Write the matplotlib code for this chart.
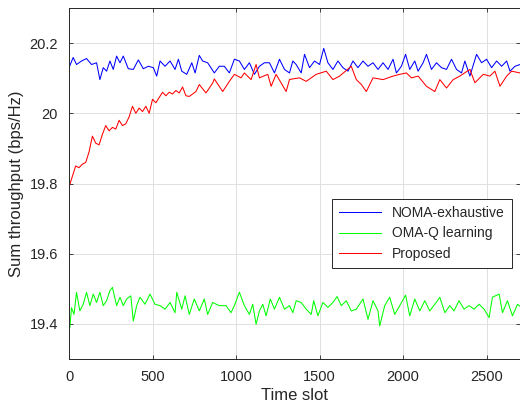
import numpy as np
import matplotlib
matplotlib.use("Agg")
import matplotlib.pyplot as plt

# values
noma_slots = [0, 25, 45, 75, 105, 135, 165, 185, 205, 225, 245, 265, 285, 305, 325, 355, 385, 415, 445, 475,
              505, 525, 545, 575, 605, 635, 655, 675, 705, 735, 755, 780, 800, 830, 870, 900, 930, 960, 990, 1020,
              1050, 1080, 1110, 1140, 1170, 1200, 1230, 1260, 1290, 1320, 1340, 1360, 1390, 1410, 1440, 1470, 1500,
              1525, 1550, 1580, 1610, 1640, 1670, 1700, 1730, 1760, 1790, 1820, 1850, 1880, 1910, 1940, 1960, 1990,
              2015, 2040, 2070, 2090, 2120, 2140, 2170, 2200, 2230, 2260, 2290, 2320, 2350, 2370, 2400, 2440, 2470,
              2500, 2530, 2560, 2590, 2620, 2640, 2670, 2700]
noma_vals = [20.130, 20.159, 20.139, 20.149, 20.156, 20.139, 20.144, 20.096, 20.130, 20.120, 20.149, 20.125,
             20.163, 20.144, 20.163, 20.127, 20.125, 20.152, 20.127, 20.134, 20.130, 20.106, 20.149, 20.134,
             20.149, 20.125, 20.154, 20.120, 20.111, 20.144, 20.115, 20.165, 20.149, 20.144, 20.115, 20.134,
             20.134, 20.115, 20.154, 20.149, 20.125, 20.144, 20.111, 20.134, 20.144, 20.144, 20.115, 20.154,
             20.125, 20.115, 20.149, 20.139, 20.115, 20.168, 20.130, 20.149, 20.139, 20.185, 20.144, 20.125,
             20.149, 20.130, 20.120, 20.149, 20.130, 20.149, 20.134, 20.144, 20.125, 20.144, 20.125, 20.154,
             20.115, 20.134, 20.168, 20.125, 20.149, 20.120, 20.144, 20.168, 20.125, 20.144, 20.130, 20.125,
             20.154, 20.125, 20.115, 20.149, 20.106, 20.168, 20.144, 20.154, 20.130, 20.149, 20.134, 20.149,
             20.120, 20.134, 20.139]

oma_slots = [5, 15, 30, 45, 65, 85, 105, 125, 145, 165, 185, 205, 225, 245, 260, 285, 305, 325, 345, 370,
             385, 405, 425, 455, 485, 515, 545, 575, 605, 635, 645, 675, 695, 720, 750, 780, 810, 830, 860, 900,
             940, 970, 990, 1020, 1050, 1080, 1100, 1120, 1140, 1160, 1180, 1205, 1230, 1260, 1290, 1320, 1340,
             1360, 1390, 1420, 1450, 1465, 1490, 1520, 1550, 1580, 1605, 1630, 1660, 1690, 1720, 1760, 1790,
             1820, 1850, 1860, 1890, 1920, 1950, 1980, 2015, 2040, 2070, 2100, 2130, 2160, 2190, 2220, 2250,
             2280, 2305, 2335, 2365, 2395, 2425, 2455, 2485, 2515, 2535, 2575, 2595, 2625, 2655, 2685, 2700]
oma_vals = [19.389, 19.446, 19.427, 19.490, 19.437, 19.456, 19.490, 19.452, 19.485, 19.461, 19.490, 19.452,
            19.466, 19.495, 19.504, 19.452, 19.476, 19.452, 19.471, 19.480, 19.408, 19.452, 19.476, 19.456,
            19.485, 19.456, 19.452, 19.442, 19.461, 19.432, 19.490, 19.442, 19.480, 19.427, 19.471, 19.437,
            19.471, 19.427, 19.461, 19.452, 19.452, 19.432, 19.452, 19.490, 19.452, 19.427, 19.456, 19.399,
            19.437, 19.456, 19.423, 19.471, 19.442, 19.476, 19.442, 19.452, 19.432, 19.466, 19.461, 19.442,
            19.427, 19.466, 19.423, 19.461, 19.447, 19.461, 19.478, 19.452, 19.466, 19.437, 19.442, 19.471,
            19.413, 19.466, 19.437, 19.394, 19.452, 19.476, 19.427, 19.452, 19.482, 19.423, 19.471, 19.437,
            19.466, 19.437, 19.456, 19.476, 19.432, 19.452, 19.437, 19.466, 19.442, 19.452, 19.442, 19.456,
            19.442, 19.418, 19.476, 19.485, 19.432, 19.466, 19.423, 19.456, 19.450]

prop_slots = [0, 20, 40, 60, 80, 100, 120, 140, 160, 180, 200, 220, 240, 260, 280, 300, 320, 340, 360, 380,
              400, 420, 440, 460, 480, 500, 520, 540, 560, 580, 600, 620, 640, 660, 680, 700, 720, 760, 780, 820,
              860, 870, 920, 960, 990, 1030, 1050, 1090, 1120, 1140, 1190, 1210, 1240, 1300, 1320, 1340, 1380,
              1420, 1480, 1540, 1580, 1620, 1690, 1720, 1750, 1780, 1820, 1880, 1940, 1980, 2020, 2050, 2090,
              2140, 2190, 2220, 2260, 2300, 2340, 2400, 2430, 2480, 2520, 2550, 2580, 2620, 2650, 2700]
prop_vals = [19.790, 19.820, 19.850, 19.845, 19.855, 19.860, 19.890, 19.935, 19.915, 19.910, 19.940, 19.965,
             19.950, 19.960, 19.955, 19.980, 19.965, 19.970, 19.990, 20.020, 20.000, 20.015, 20.005, 20.020,
             20.000, 20.040, 20.030, 20.045, 20.060, 20.050, 20.060, 20.055, 20.065, 20.058, 20.075, 20.050,
             20.048, 20.062, 20.082, 20.058, 20.086, 20.098, 20.062, 20.091, 20.111, 20.101, 20.115, 20.096,
             20.139, 20.101, 20.111, 20.077, 20.111, 20.062, 20.096, 20.098, 20.101, 20.091, 20.111, 20.120,
             20.096, 20.106, 20.134, 20.096, 20.082, 20.062, 20.101, 20.096, 20.106, 20.111, 20.115, 20.101,
             20.106, 20.077, 20.062, 20.096, 20.072, 20.096, 20.106, 20.125, 20.087, 20.111, 20.106, 20.120,
             20.077, 20.106, 20.120, 20.115]

labels = ["NOMA-exhaustive", "OMA-Q learning", "Proposed"]
x_ticks = [0, 500, 1000, 1500, 2000, 2500]
y_ticks = [19.4, 19.6, 19.8, 20.0, 20.2]
y_tick_labels = ["19.4", "19.6", "19.8", "20", "20.2"]

plt.rcParams['font.family'] = ['Liberation Sans', 'DejaVu Sans']
axis_grey = (0.15, 0.15, 0.15)

fig = plt.figure(figsize=(5.2, 4.13), dpi=100)
ax = fig.add_axes([69 / 520, 54 / 413, 451 / 520, 351 / 413])

ax.plot(noma_slots, noma_vals, color=(0, 0, 1), lw=0.75, label=labels[0])
ax.plot(oma_slots, oma_vals, color=(0, 1, 0), lw=0.75, label=labels[1])
ax.plot(prop_slots, prop_vals, color=(1, 0, 0), lw=0.75, label=labels[2])

ax.set_xlim(0, 2700)
ax.set_ylim(19.3, 20.3)
ax.set_xticks(x_ticks)
ax.set_yticks(y_ticks)
ax.set_yticklabels(y_tick_labels)
ax.grid(True, color=(0.88, 0.88, 0.88), lw=0.7)
ax.set_axisbelow(True)
ax.tick_params(direction='in', top=True, right=True, length=3, width=0.6,
               colors=axis_grey, labelsize=10.5, labelcolor=axis_grey, pad=8)
for s in ax.spines.values():
    s.set_color(axis_grey)
    s.set_linewidth(0.7)

ax.set_xlabel("Time slot", fontsize=12, color=axis_grey, labelpad=3)
ax.set_ylabel("Sum throughput (bps/Hz)", fontsize=12, color=axis_grey, labelpad=4)

leg = ax.legend(loc='upper right', bbox_to_anchor=(0.982, 0.455), fontsize=10,
                fancybox=False, framealpha=1, edgecolor=axis_grey,
                handlelength=3.0, borderpad=0.5, labelspacing=0.45, borderaxespad=0)
leg.get_frame().set_linewidth(0.7)
for t in leg.get_texts():
    t.set_color(axis_grey)

fig.savefig("out.png", dpi=100)
